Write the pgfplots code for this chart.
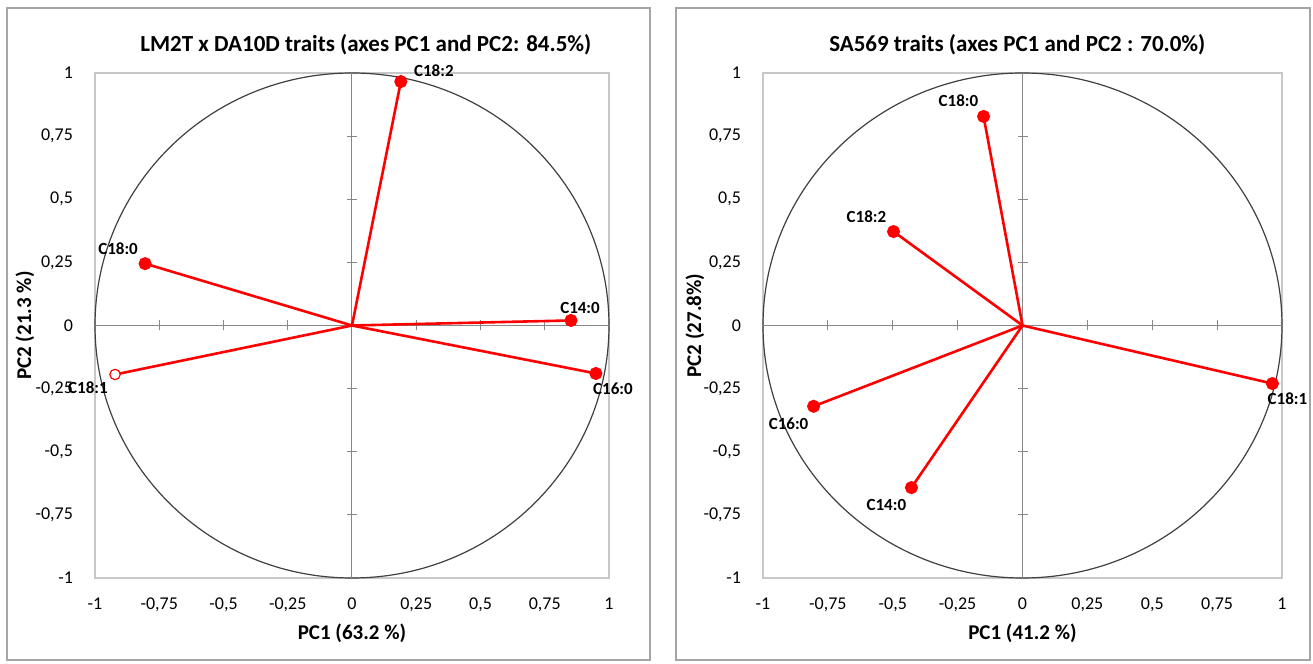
\documentclass[border=0pt]{standalone}
\usepackage{fontspec}
\setmainfont{Carlito}
\usepackage{pgfplots}
\pgfplotsset{compat=1.18}
\definecolor{boxgray}{RGB}{200,200,200}
\definecolor{axgray}{RGB}{135,135,135}
\definecolor{framegray}{RGB}{165,165,165}
\definecolor{vred}{RGB}{255,0,0}
\tikzset{lab/.style={text=black, font=\bfseries\fontsize{8.5}{9}\selectfont, inner sep=1pt}}
\pgfplotsset{pcastyle/.style={
  scale only axis, height=252.5pt,
  xmin=-1,xmax=1,ymin=-1,ymax=1, clip=false,
  axis line style={boxgray, line width=0.7pt},
  major tick length=0pt,
  xtick={-1,-0.75,-0.5,-0.25,0,0.25,0.5,0.75,1},
  ytick={-1,-0.75,-0.5,-0.25,0,0.25,0.5,0.75,1},
  xticklabels={-1,{-0,75},{-0,5},{-0,25},0,{0,25},{0,5},{0,75},1},
  yticklabels={-1,{-0,75},{-0,5},{-0,25},0,{0,25},{0,5},{0,75},1},
  tick label style={font=\fontsize{9}{10}\selectfont, text=black},
  xticklabel style={yshift=-6.5pt},
  yticklabel style={xshift=-7.5pt},
  vec/.style={vred, line width=1.3pt, mark=*, mark indices={2}, mark size=2.6pt, mark options={solid}},
}}
\newcommand{\crosshair}{%
  \draw[black!75, line width=0.6pt] (axis cs:0,0) ellipse [x radius=1, y radius=1];
  \draw[axgray, line width=0.5pt] (axis cs:-1,0) -- (axis cs:1,0);
  \draw[axgray, line width=0.5pt] (axis cs:0,-1) -- (axis cs:0,1);
  \pgfplotsinvokeforeach{-0.75,-0.5,-0.25,0.25,0.5,0.75}{
    \draw[axgray, line width=0.5pt] ([yshift=-2.5pt]axis cs:##1,0) -- ([yshift=2.5pt]axis cs:##1,0);
    \draw[axgray, line width=0.5pt] ([xshift=-2.5pt]axis cs:0,##1) -- ([xshift=2.5pt]axis cs:0,##1);
  }%
}
\begin{document}
\begin{tikzpicture}
\fill[white] (0pt,0pt) rectangle (656.5pt,332pt);
\draw[framegray, line width=1pt] (3.5pt,2pt) rectangle (325pt,328pt);
\draw[framegray, line width=1pt] (338pt,2pt) rectangle (655pt,328pt);
% ---------------- left panel
\begin{axis}[pcastyle, width=257pt, at={(47.5pt,43pt)}, anchor=south west]
\crosshair
\addplot[vec] coordinates {(0,0) (0.19,0.966)} node[pos=1, lab, anchor=south west, xshift=5pt, yshift=1pt] {C18:2};
\addplot[vec] coordinates {(0,0) (-0.805,0.245)} node[pos=1, lab, anchor=south east, xshift=-2pt, yshift=3pt] {C18:0};
\addplot[vec] coordinates {(0,0) (0.852,0.02)} node[pos=1, lab, anchor=south west, xshift=-7pt, yshift=2pt] {C14:0};
\addplot[vec] coordinates {(0,0) (0.949,-0.19)} node[pos=1, lab, anchor=north west, xshift=-3pt, yshift=-3pt] {C16:0};
\addplot[vec, mark options={fill=white, line width=0.6pt}] coordinates {(0,0) (-0.922,-0.194)} node[pos=1, lab, anchor=north east, xshift=-2pt, yshift=-2pt] {C18:1};
\node[font=\bfseries\fontsize{11.5}{12}\selectfont, anchor=center] at ([yshift=14pt]rel axis cs:0.527,1) {LM2T x DA10D traits (axes PC1 and PC2: 84.5\%)};
\node[font=\bfseries\fontsize{10.5}{11}\selectfont, anchor=center] at ([yshift=-27.5pt]rel axis cs:0.5,0) {PC1 (63.2 \%)};
\node[font=\bfseries\fontsize{10.5}{11}\selectfont, anchor=center, rotate=90] at ([xshift=-35pt]rel axis cs:0,0.5) {PC2 (21.3 \%)};
\end{axis}
% ---------------- right panel
\begin{axis}[pcastyle, width=259.5pt, at={(381.5pt,43pt)}, anchor=south west]
\crosshair
\addplot[vec] coordinates {(0,0) (-0.150,0.828)} node[pos=1, lab, anchor=south east, xshift=-1pt, yshift=3pt] {C18:0};
\addplot[vec] coordinates {(0,0) (-0.497,0.372)} node[pos=1, lab, anchor=south east, xshift=-2pt, yshift=3pt] {C18:2};
\addplot[vec] coordinates {(0,0) (-0.805,-0.32)} node[pos=1, lab, anchor=north east, xshift=-1pt, yshift=-4pt] {C16:0};
\addplot[vec] coordinates {(0,0) (-0.428,-0.642)} node[pos=1, lab, anchor=north east, xshift=-1pt, yshift=-4pt] {C14:0};
\addplot[vec] coordinates {(0,0) (0.963,-0.23)} node[pos=1, lab, anchor=north west, xshift=-4pt, yshift=-3pt] {C18:1};
\node[font=\bfseries\fontsize{11.5}{12}\selectfont, anchor=center] at ([yshift=14pt]rel axis cs:0.49,1) {SA569 traits (axes PC1 and PC2 : 70.0\%)};
\node[font=\bfseries\fontsize{10.5}{11}\selectfont, anchor=center] at ([yshift=-27.5pt]rel axis cs:0.5,0) {PC1 (41.2 \%)};
\node[font=\bfseries\fontsize{10.5}{11}\selectfont, anchor=center, rotate=90] at ([xshift=-34pt]rel axis cs:0,0.5) {PC2 (27.8\%)};
\end{axis}
\end{tikzpicture}
\end{document}
